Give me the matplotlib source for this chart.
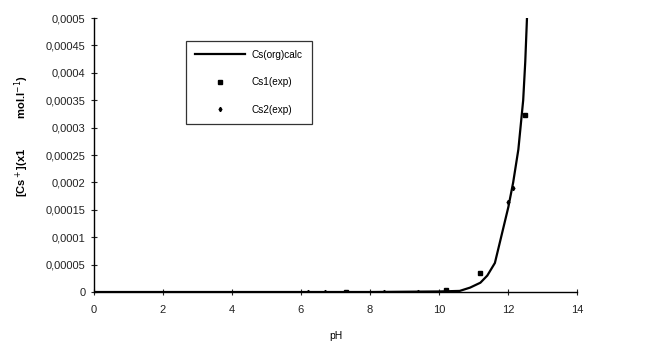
import numpy as np
import matplotlib
matplotlib.use("Agg")
import matplotlib.pyplot as plt
from matplotlib.ticker import FuncFormatter

plt.rcParams['font.family'] = ['Liberation Sans', 'DejaVu Sans']

# calculated Cs+ concentration vs pH
ph_calc = [0, 2, 4, 6, 8, 10, 10.6, 10.9, 11.2, 11.4, 11.62, 11.8, 12.01, 12.15, 12.3, 12.44, 12.5, 12.55]
cs_calc = [0, 0, 0, 0, 0, 0.000001, 0.000002, 0.000008, 0.000017, 0.00003, 0.000053, 0.0001,
           0.000155, 0.0002, 0.00026, 0.00035, 0.00042, 0.0005]

# experimental points
ph_exp1 = [7.3, 10.2, 11.2, 12.49]
cs_exp1 = [0.0, 0.000004, 0.000035, 0.000323]
ph_exp2 = [6.2, 6.7, 8.4, 9.4, 12.0, 12.15]
cs_exp2 = [0.0, 0.0, 0.0, 0.0, 0.000165, 0.00019]

yticks = np.arange(0, 0.00051, 0.00005)
xticks = [0, 2, 4, 6, 8, 10, 12, 14]

fig = plt.figure(figsize=(6.5, 3.49), dpi=100)
ax = fig.add_axes([0.1446, 0.1633, 0.7431, 0.7851])

ax.plot(ph_calc, cs_calc, color='black', lw=1.6, label='Cs(org)calc')
ax.plot(ph_exp1, cs_exp1, ls='none', marker='s', ms=2.2, color='black', label='Cs1(exp)')
ax.plot(ph_exp2, cs_exp2, ls='none', marker='d', ms=2.2, color='black', label='Cs2(exp)')

ax.set_xlim(0, 14)
ax.set_ylim(0, 0.0005)
ax.set_xticks(xticks)
ax.set_yticks(yticks)


def comma_fmt(v, pos):
    if abs(v) < 1e-12:
        return '0'
    s = ('%.5f' % v).rstrip('0')
    return s.replace('.', ',')


ax.yaxis.set_major_formatter(FuncFormatter(comma_fmt))
ax.tick_params(direction='inout', length=4, width=0.8, labelsize=8, pad=4, colors='#222222')
ax.tick_params(axis='x', pad=7)

for side in ['top', 'right']:
    ax.spines[side].set_visible(False)
for side in ['left', 'bottom']:
    ax.spines[side].set_linewidth(1.0)

ax.set_xlabel('pH', fontsize=7.5, labelpad=12)
ax.set_ylabel('[Cs$^+$](x1          mol.l$^{-1}$)', fontsize=8, fontweight='bold')
ax.yaxis.set_label_coords(-0.13, 0.57)

leg = ax.legend(loc='upper left', bbox_to_anchor=(0.18, 0.935), fontsize=7.2, frameon=True,
                fancybox=False, edgecolor='black', handlelength=5.0, labelspacing=1.75,
                borderpad=0.9, handletextpad=0.7)
leg.get_frame().set_linewidth(0.9)

fig.savefig('out.png', dpi=100)
